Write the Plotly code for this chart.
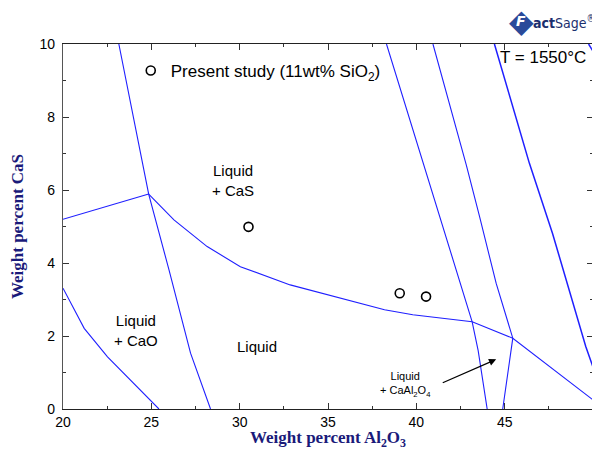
import plotly.graph_objects as go

# ---- data ----
# CaO / CaS two-phase boundary (steep left line)
cao_cas_x = [23.16, 24.85, 26.0, 27.22, 28.35]
cao_cas_y = [10.0, 5.89, 3.81, 1.53, 0.0]
# boundary entering from the left edge to the invariant point
left_x = [20.0, 24.85]
left_y = [5.20, 5.89]
# CaO liquidus
cao_liq_x = [20.0, 21.2, 22.52, 23.83, 25.43]
cao_liq_y = [3.31, 2.21, 1.43, 0.79, 0.0]
# CaS liquidus
cas_liq_x = [24.85, 26.28, 28.16, 30.04, 32.86, 35.68, 38.2, 39.8, 43.16, 45.46, 50.0]
cas_liq_y = [5.89, 5.18, 4.45, 3.90, 3.40, 3.03, 2.72, 2.58, 2.39, 1.94, 0.25]
# right-hand boundaries
r1_x = [38.31, 40.3, 42.63, 43.16, 43.5, 44.01]
r1_y = [10.0, 6.9, 3.26, 2.39, 1.6, 0.0]
r2_x = [40.94, 42.83, 43.58, 44.52, 45.46, 45.17, 44.89]
r2_y = [10.0, 6.68, 5.27, 3.44, 1.94, 0.98, 0.0]
r3_x = [44.42, 46.4, 47.71, 49.59, 50.0]
r3_y = [10.0, 6.73, 4.81, 1.71, 1.15]
r4_x = [49.75, 50.0]
r4_y = [10.0, 9.8]

# experimental points
exp_x = [30.5, 39.06, 40.55]
exp_y = [4.99, 3.17, 3.08]

x_ticks = [20, 25, 30, 35, 40, 45, 50]
y_ticks = [0, 2, 4, 6, 8, 10]

BLUE = "#1f1fff"
NAVY = "#1a1a7a"

fig = go.Figure()

for xs, ys, w in [(cao_cas_x, cao_cas_y, 1.1), (left_x, left_y, 1.1),
                  (cao_liq_x, cao_liq_y, 1.1), (cas_liq_x, cas_liq_y, 1.1),
                  (r1_x, r1_y, 1.1), (r2_x, r2_y, 1.1), (r3_x, r3_y, 1.5),
                  (r4_x, r4_y, 1.5)]:
    fig.add_trace(go.Scatter(x=xs, y=ys, mode="lines",
                             line=dict(color=BLUE, width=w),
                             showlegend=False, hoverinfo="skip"))

fig.add_trace(go.Scatter(x=exp_x, y=exp_y, mode="markers",
                         name="Present study (11wt% SiO<sub>2</sub>)",
                         marker=dict(symbol="circle-open", size=9,
                                     color="black", line=dict(width=1.6, color="black")),
                         showlegend=True))

font_main = "Liberation Sans, Arial, sans-serif"


def px(p):
    # page pixel x -> paper fraction (plot area spans page x 62..594)
    return (p - 62) / 532


def py(p):
    # page pixel y -> paper fraction (plot area spans page y 44..409)
    return (409 - p) / 365


ann = []
ann.append(dict(x=29.65, y=6.25, text="Liquid<br>+ CaS", showarrow=False,
                font=dict(family=font_main, size=15, color="black")))
ann.append(dict(x=24.12, y=2.14, text="Liquid<br>+ CaO", showarrow=False,
                font=dict(family=font_main, size=15, color="black")))
ann.append(dict(x=31.0, y=1.70, text="Liquid", showarrow=False,
                font=dict(family=font_main, size=15, color="black")))
ann.append(dict(x=39.4, y=0.68, text="Liquid<br>+ CaAl<sub>2</sub>O<sub>4</sub>", showarrow=False,
                font=dict(family=font_main, size=11, color="black")))
ann.append(dict(x=44.52, y=1.36, ax=41.41, ay=0.70, xref="x", yref="y",
                axref="x", ayref="y", text="", showarrow=True,
                arrowhead=2, arrowsize=1.2, arrowwidth=1.2, arrowcolor="black"))
ann.append(dict(x=px(589), y=py(58), xref="paper", yref="paper", xanchor="right",
                yanchor="middle", text="T = 1550°C", showarrow=False,
                font=dict(family=font_main, size=17, color="black")))
# logo: blue diamond with white F, then "actSage"
ann.append(dict(x=px(522), y=py(21), xref="paper", yref="paper",
                xanchor="center", yanchor="middle",
                text="◆", showarrow=False,
                font=dict(family="DejaVu Sans", size=32, color="#2a4a9a")))
ann.append(dict(x=px(522), y=py(21), xref="paper", yref="paper",
                xanchor="center", yanchor="middle",
                text="<b><i>F</i></b>", showarrow=False,
                font=dict(family="DejaVu Sans", size=14, color="white")))
ann.append(dict(x=px(532), y=py(22), xref="paper", yref="paper",
                xanchor="left", yanchor="middle",
                text="<b>act</b>Sage<sup>®</sup>", showarrow=False,
                font=dict(family="DejaVu Sans Condensed, DejaVu Sans", size=14, color="#1b2f6e")))

fig.update_layout(
    width=592, height=442,
    margin=dict(l=54, r=6, t=36, b=41),
    plot_bgcolor="white", paper_bgcolor="white",
    font=dict(family=font_main, size=14, color="black"),
    annotations=ann,
    legend=dict(x=px(130), y=py(71), xanchor="left", yanchor="middle",
                bgcolor="rgba(0,0,0,0)", borderwidth=0,
                font=dict(family=font_main, size=17, color="black"),
                itemwidth=30),
    xaxis=dict(range=[20, 50], tickvals=x_ticks, ticks="inside", ticklen=6,
               tickcolor="#333", showline=True, linecolor="#222", linewidth=1.2,
               mirror="ticks", showgrid=False, zeroline=False,
               minor=dict(dtick=2.5, ticks="inside", ticklen=3, tickcolor="#333"),
               tickfont=dict(size=14),
               title=dict(text="<b>Weight percent Al<sub>2</sub>O<sub>3</sub></b>",
                          font=dict(family="Liberation Serif, Times New Roman, serif",
                                    size=17, color=NAVY), standoff=2)),
    yaxis=dict(range=[0, 10], tickvals=y_ticks, ticks="inside", ticklen=6,
               tickcolor="#333", showline=True, linecolor="#555", linewidth=1.2,
               mirror="ticks", showgrid=False, zeroline=False,
               minor=dict(dtick=1, ticks="inside", ticklen=3, tickcolor="#333"),
               tickfont=dict(size=14), ticklabelstandoff=4,
               title=dict(text="<b>Weight percent CaS</b>",
                          font=dict(family="Liberation Serif, Times New Roman, serif",
                                    size=17, color=NAVY), standoff=14)),
)

fig.write_html("out.html")
